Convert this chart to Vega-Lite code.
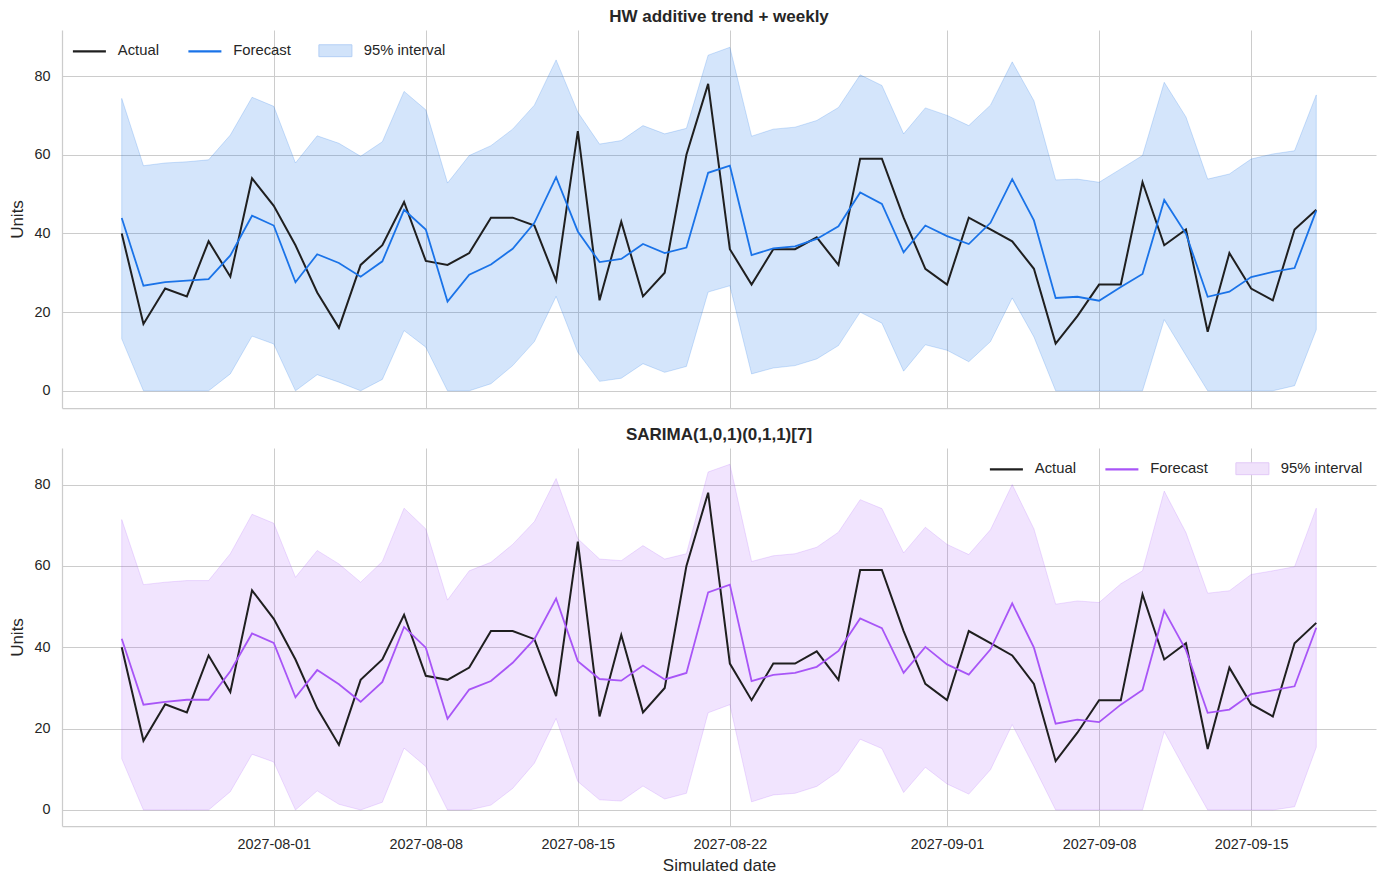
{
  "$schema": "https://vega.github.io/schema/vega-lite/v6.json",
  "background": "white",
  "padding": {"left": 8, "top": 8, "right": 10, "bottom": 4},
  "config": {
    "font": "Liberation Sans",
    "view": {"stroke": null},
    "axis": {
      "domainColor": "#cccccc",
      "domainWidth": 1.25,
      "gridColor": "#cccccc",
      "gridWidth": 1,
      "ticks": false,
      "labelFontSize": 14.4,
      "labelColor": "#262626",
      "labelPadding": 12,
      "titleFontSize": 17,
      "titleFontWeight": "normal",
      "titleColor": "#262626",
      "titlePadding": 7
    },
    "title": {"fontSize": 17, "fontWeight": "bold", "color": "#262626", "offset": 4, "anchor": "middle"},
    "legend": {
      "title": null,
      "direction": "horizontal",
      "labelFontSize": 14.8,
      "labelColor": "#262626",
      "labelOffset": 21,
      "columnPadding": 24.5,
      "symbolSize": 1089,
      "symbolType": "M-1,0H1",
      "symbolStrokeWidth": 2.2,
      "padding": 0,
      "offset": 13
    },
    "concat": {"spacing": 18}
  },
  "datasets": {
    "hw": [
      {"date": "2027-07-25", "Actual": 40, "Forecast": 43.9, "lo": 13.2, "hi": 74.3},
      {"date": "2027-07-26", "Actual": 17, "Forecast": 26.7, "lo": 0, "hi": 57.2},
      {"date": "2027-07-27", "Actual": 26, "Forecast": 27.6, "lo": 0, "hi": 57.9},
      {"date": "2027-07-28", "Actual": 24, "Forecast": 28.0, "lo": 0, "hi": 58.2},
      {"date": "2027-07-29", "Actual": 38, "Forecast": 28.4, "lo": 0, "hi": 58.7},
      {"date": "2027-07-30", "Actual": 29, "Forecast": 34.4, "lo": 4.3, "hi": 65.0},
      {"date": "2027-07-31", "Actual": 54, "Forecast": 44.5, "lo": 13.9, "hi": 74.6},
      {"date": "2027-08-01", "Actual": 47, "Forecast": 42.0, "lo": 11.9, "hi": 72.3},
      {"date": "2027-08-02", "Actual": 37, "Forecast": 27.6, "lo": 0, "hi": 57.9},
      {"date": "2027-08-03", "Actual": 25, "Forecast": 34.7, "lo": 4.1, "hi": 64.8},
      {"date": "2027-08-04", "Actual": 16, "Forecast": 32.5, "lo": 2.2, "hi": 62.9},
      {"date": "2027-08-05", "Actual": 32, "Forecast": 29.0, "lo": 0, "hi": 59.6},
      {"date": "2027-08-06", "Actual": 37, "Forecast": 32.9, "lo": 2.9, "hi": 63.3},
      {"date": "2027-08-07", "Actual": 48, "Forecast": 46.0, "lo": 15.3, "hi": 76.1},
      {"date": "2027-08-08", "Actual": 33, "Forecast": 41.0, "lo": 11.1, "hi": 71.4},
      {"date": "2027-08-09", "Actual": 32, "Forecast": 22.7, "lo": 0, "hi": 52.8},
      {"date": "2027-08-10", "Actual": 35, "Forecast": 29.5, "lo": 0, "hi": 59.8},
      {"date": "2027-08-11", "Actual": 44, "Forecast": 32.1, "lo": 1.8, "hi": 62.3},
      {"date": "2027-08-12", "Actual": 44, "Forecast": 36.1, "lo": 6.4, "hi": 66.5},
      {"date": "2027-08-13", "Actual": 42, "Forecast": 42.7, "lo": 12.5, "hi": 72.6},
      {"date": "2027-08-14", "Actual": 28, "Forecast": 54.3, "lo": 24.0, "hi": 84.1},
      {"date": "2027-08-15", "Actual": 66, "Forecast": 40.5, "lo": 9.8, "hi": 70.8},
      {"date": "2027-08-16", "Actual": 23, "Forecast": 32.7, "lo": 2.4, "hi": 62.7},
      {"date": "2027-08-17", "Actual": 43, "Forecast": 33.5, "lo": 3.2, "hi": 63.6},
      {"date": "2027-08-18", "Actual": 24, "Forecast": 37.3, "lo": 6.9, "hi": 67.4},
      {"date": "2027-08-19", "Actual": 30, "Forecast": 35.0, "lo": 4.7, "hi": 65.3},
      {"date": "2027-08-20", "Actual": 60, "Forecast": 36.4, "lo": 6.2, "hi": 66.7},
      {"date": "2027-08-21", "Actual": 78, "Forecast": 55.4, "lo": 25.1, "hi": 85.3},
      {"date": "2027-08-22", "Actual": 36, "Forecast": 57.2, "lo": 26.7, "hi": 87.3},
      {"date": "2027-08-23", "Actual": 27, "Forecast": 34.5, "lo": 4.3, "hi": 64.7},
      {"date": "2027-08-24", "Actual": 36, "Forecast": 36.2, "lo": 5.8, "hi": 66.5},
      {"date": "2027-08-25", "Actual": 36, "Forecast": 36.7, "lo": 6.4, "hi": 67.0},
      {"date": "2027-08-26", "Actual": 39, "Forecast": 38.6, "lo": 8.1, "hi": 68.7},
      {"date": "2027-08-27", "Actual": 32, "Forecast": 41.8, "lo": 11.5, "hi": 72.0},
      {"date": "2027-08-28", "Actual": 59, "Forecast": 50.4, "lo": 20.0, "hi": 80.3},
      {"date": "2027-08-29", "Actual": 59, "Forecast": 47.5, "lo": 17.2, "hi": 77.6},
      {"date": "2027-08-30", "Actual": 44, "Forecast": 35.2, "lo": 5.0, "hi": 65.3},
      {"date": "2027-08-31", "Actual": 31, "Forecast": 42.0, "lo": 11.7, "hi": 71.9},
      {"date": "2027-09-01", "Actual": 27, "Forecast": 39.3, "lo": 10.3, "hi": 70.0},
      {"date": "2027-09-02", "Actual": 44, "Forecast": 37.3, "lo": 7.4, "hi": 67.4},
      {"date": "2027-09-03", "Actual": 41, "Forecast": 42.7, "lo": 12.5, "hi": 72.6},
      {"date": "2027-09-04", "Actual": 38, "Forecast": 53.8, "lo": 23.6, "hi": 83.6},
      {"date": "2027-09-05", "Actual": 31, "Forecast": 43.3, "lo": 13.7, "hi": 73.7},
      {"date": "2027-09-06", "Actual": 12, "Forecast": 23.6, "lo": 0, "hi": 53.6},
      {"date": "2027-09-07", "Actual": 19, "Forecast": 23.9, "lo": 0, "hi": 53.8},
      {"date": "2027-09-08", "Actual": 27, "Forecast": 22.9, "lo": 0, "hi": 53.0},
      {"date": "2027-09-09", "Actual": 27, "Forecast": 26.4, "lo": 0, "hi": 56.4},
      {"date": "2027-09-10", "Actual": 53, "Forecast": 29.7, "lo": 0, "hi": 59.8},
      {"date": "2027-09-11", "Actual": 37, "Forecast": 48.5, "lo": 18.1, "hi": 78.4},
      {"date": "2027-09-12", "Actual": 41, "Forecast": 39.9, "lo": 9.0, "hi": 69.6},
      {"date": "2027-09-13", "Actual": 15, "Forecast": 23.9, "lo": 0, "hi": 53.8},
      {"date": "2027-09-14", "Actual": 35, "Forecast": 25.2, "lo": 0, "hi": 55.1},
      {"date": "2027-09-15", "Actual": 26, "Forecast": 28.9, "lo": 0, "hi": 58.9},
      {"date": "2027-09-16", "Actual": 23, "Forecast": 30.2, "lo": 0, "hi": 60.2},
      {"date": "2027-09-17", "Actual": 41, "Forecast": 31.2, "lo": 1.3, "hi": 61.0},
      {"date": "2027-09-18", "Actual": 46, "Forecast": 45.8, "lo": 15.5, "hi": 75.2}
    ],
    "sarima": [
      {"date": "2027-07-25", "Actual": 40, "Forecast": 42.1, "lo": 12.6, "hi": 71.4},
      {"date": "2027-07-26", "Actual": 17, "Forecast": 25.9, "lo": 0, "hi": 55.4},
      {"date": "2027-07-27", "Actual": 26, "Forecast": 26.6, "lo": 0, "hi": 56.0},
      {"date": "2027-07-28", "Actual": 24, "Forecast": 27.1, "lo": 0, "hi": 56.4},
      {"date": "2027-07-29", "Actual": 38, "Forecast": 27.1, "lo": 0, "hi": 56.4},
      {"date": "2027-07-30", "Actual": 29, "Forecast": 34.1, "lo": 4.5, "hi": 63.0},
      {"date": "2027-07-31", "Actual": 54, "Forecast": 43.4, "lo": 13.7, "hi": 72.7},
      {"date": "2027-08-01", "Actual": 47, "Forecast": 41.1, "lo": 11.8, "hi": 70.5},
      {"date": "2027-08-02", "Actual": 37, "Forecast": 27.7, "lo": 0, "hi": 57.2},
      {"date": "2027-08-03", "Actual": 25, "Forecast": 34.4, "lo": 4.7, "hi": 63.8},
      {"date": "2027-08-04", "Actual": 16, "Forecast": 30.9, "lo": 1.4, "hi": 60.5},
      {"date": "2027-08-05", "Actual": 32, "Forecast": 26.6, "lo": 0, "hi": 56.0},
      {"date": "2027-08-06", "Actual": 37, "Forecast": 31.5, "lo": 1.9, "hi": 61.1},
      {"date": "2027-08-07", "Actual": 48, "Forecast": 45.0, "lo": 15.2, "hi": 74.2},
      {"date": "2027-08-08", "Actual": 33, "Forecast": 39.9, "lo": 10.7, "hi": 69.1},
      {"date": "2027-08-09", "Actual": 32, "Forecast": 22.4, "lo": 0, "hi": 51.6},
      {"date": "2027-08-10", "Actual": 35, "Forecast": 29.6, "lo": 0, "hi": 58.8},
      {"date": "2027-08-11", "Actual": 44, "Forecast": 31.7, "lo": 1.2, "hi": 60.9},
      {"date": "2027-08-12", "Actual": 44, "Forecast": 36.2, "lo": 5.3, "hi": 65.3},
      {"date": "2027-08-13", "Actual": 42, "Forecast": 42.0, "lo": 11.5, "hi": 70.9},
      {"date": "2027-08-14", "Actual": 28, "Forecast": 52.0, "lo": 22.5, "hi": 81.5},
      {"date": "2027-08-15", "Actual": 66, "Forecast": 36.6, "lo": 7.0, "hi": 66.7},
      {"date": "2027-08-16", "Actual": 23, "Forecast": 32.2, "lo": 2.5, "hi": 61.7},
      {"date": "2027-08-17", "Actual": 43, "Forecast": 31.8, "lo": 2.2, "hi": 61.3},
      {"date": "2027-08-18", "Actual": 24, "Forecast": 35.5, "lo": 5.9, "hi": 65.0},
      {"date": "2027-08-19", "Actual": 30, "Forecast": 32.1, "lo": 2.7, "hi": 61.7},
      {"date": "2027-08-20", "Actual": 60, "Forecast": 33.7, "lo": 4.1, "hi": 63.0},
      {"date": "2027-08-21", "Actual": 78, "Forecast": 53.5, "lo": 23.9, "hi": 83.1},
      {"date": "2027-08-22", "Actual": 36, "Forecast": 55.4, "lo": 25.9, "hi": 85.0},
      {"date": "2027-08-23", "Actual": 27, "Forecast": 31.7, "lo": 2.0, "hi": 61.1},
      {"date": "2027-08-24", "Actual": 36, "Forecast": 33.2, "lo": 3.7, "hi": 62.5},
      {"date": "2027-08-25", "Actual": 36, "Forecast": 33.7, "lo": 4.1, "hi": 63.0},
      {"date": "2027-08-26", "Actual": 39, "Forecast": 35.2, "lo": 5.8, "hi": 64.6},
      {"date": "2027-08-27", "Actual": 32, "Forecast": 39.1, "lo": 9.5, "hi": 68.3},
      {"date": "2027-08-28", "Actual": 59, "Forecast": 47.1, "lo": 17.4, "hi": 76.3},
      {"date": "2027-08-29", "Actual": 59, "Forecast": 44.7, "lo": 15.1, "hi": 74.1},
      {"date": "2027-08-30", "Actual": 44, "Forecast": 33.7, "lo": 4.3, "hi": 63.2},
      {"date": "2027-08-31", "Actual": 31, "Forecast": 40.1, "lo": 10.5, "hi": 69.5},
      {"date": "2027-09-01", "Actual": 27, "Forecast": 35.8, "lo": 6.4, "hi": 65.3},
      {"date": "2027-09-02", "Actual": 44, "Forecast": 33.3, "lo": 3.9, "hi": 62.8},
      {"date": "2027-09-03", "Actual": 41, "Forecast": 39.5, "lo": 9.9, "hi": 68.9},
      {"date": "2027-09-04", "Actual": 38, "Forecast": 50.8, "lo": 21.0, "hi": 80.0},
      {"date": "2027-09-05", "Actual": 31, "Forecast": 39.9, "lo": 10.7, "hi": 69.1},
      {"date": "2027-09-06", "Actual": 12, "Forecast": 21.2, "lo": 0, "hi": 50.6},
      {"date": "2027-09-07", "Actual": 19, "Forecast": 22.2, "lo": 0, "hi": 51.4},
      {"date": "2027-09-08", "Actual": 27, "Forecast": 21.6, "lo": 0, "hi": 51.0},
      {"date": "2027-09-09", "Actual": 27, "Forecast": 25.9, "lo": 0, "hi": 55.6},
      {"date": "2027-09-10", "Actual": 53, "Forecast": 29.5, "lo": 0, "hi": 58.8},
      {"date": "2027-09-11", "Actual": 37, "Forecast": 49.0, "lo": 19.3, "hi": 78.4},
      {"date": "2027-09-12", "Actual": 41, "Forecast": 39.3, "lo": 9.5, "hi": 68.2},
      {"date": "2027-09-13", "Actual": 15, "Forecast": 23.9, "lo": 0, "hi": 53.3},
      {"date": "2027-09-14", "Actual": 35, "Forecast": 24.7, "lo": 0, "hi": 53.9},
      {"date": "2027-09-15", "Actual": 26, "Forecast": 28.5, "lo": 0, "hi": 57.9},
      {"date": "2027-09-16", "Actual": 23, "Forecast": 29.4, "lo": 0, "hi": 58.8},
      {"date": "2027-09-17", "Actual": 41, "Forecast": 30.4, "lo": 0.8, "hi": 59.8},
      {"date": "2027-09-18", "Actual": 46, "Forecast": 44.8, "lo": 15.4, "hi": 74.2}
    ]
  },
  "vconcat": [
    {
      "title": "HW additive trend + weekly",
      "width": 1314,
      "height": 378,
      "data": {"name": "hw"},
      "encoding": {
        "x": {
          "field": "date",
          "type": "temporal",
          "scale": {
            "type": "utc",
            "domain": [
              {"year": 2027, "month": 7, "date": 22, "hours": 6, "utc": true},
              {"year": 2027, "month": 9, "date": 20, "hours": 18, "utc": true}
            ]
          },
          "axis": {
            "labels": false,
            "title": null,
            "grid": true,
            "values": [
              {"year": 2027, "month": 8, "date": 1, "utc": true},
              {"year": 2027, "month": 8, "date": 8, "utc": true},
              {"year": 2027, "month": 8, "date": 15, "utc": true},
              {"year": 2027, "month": 8, "date": 22, "utc": true},
              {"year": 2027, "month": 9, "date": 1, "utc": true},
              {"year": 2027, "month": 9, "date": 8, "utc": true},
              {"year": 2027, "month": 9, "date": 15, "utc": true}
            ]
          }
        }
      },
      "layer": [
        {
          "mark": {"type": "area", "fill": "#1a73e8", "fillOpacity": 0.19, "stroke": "#1a73e8", "strokeOpacity": 0.2, "strokeWidth": 1},
          "encoding": {
            "y": {
              "field": "lo",
              "type": "quantitative",
              "title": "Units",
              "scale": {"domain": [-4.37, 91.7], "nice": false, "zero": false},
              "axis": {"values": [0, 20, 40, 60, 80], "grid": true}
            },
            "y2": {"field": "hi"}
          }
        },
        {
          "transform": [{"fold": ["Actual", "Forecast"], "as": ["series", "value"]}],
          "mark": {"type": "line"},
          "encoding": {
            "y": {"field": "value", "type": "quantitative"},
            "color": {
              "field": "series",
              "type": "nominal",
              "scale": {"domain": ["Actual", "Forecast", "95% interval"], "range": ["#1f1f1f", "#1a73e8", "#b3cff5"]},
              "legend": {
                "orient": "none",
                "legendX": 20,
                "legendY": 13,
                "encode": {
                  "symbols": {
                    "update": {
                      "shape": {"signal": "datum.value === '95% interval' ? 'M-1,-0.36H1V0.36H-1Z' : 'M-1,0H1'"},
                      "fill": {"signal": "datum.value === '95% interval' ? '#d1e3fa' : 'transparent'"},
                      "strokeWidth": {"signal": "datum.value === '95% interval' ? 1 : 2.2"}
                    }
                  }
                }
              }
            },
            "strokeWidth": {
              "field": "series",
              "type": "nominal",
              "scale": {"domain": ["Actual", "Forecast"], "range": [2, 1.8]},
              "legend": null
            }
          }
        }
      ]
    },
    {
      "title": "SARIMA(1,0,1)(0,1,1)[7]",
      "width": 1314,
      "height": 378,
      "data": {"name": "sarima"},
      "encoding": {
        "x": {
          "field": "date",
          "type": "temporal",
          "title": "Simulated date",
          "scale": {
            "type": "utc",
            "domain": [
              {"year": 2027, "month": 7, "date": 22, "hours": 6, "utc": true},
              {"year": 2027, "month": 9, "date": 20, "hours": 18, "utc": true}
            ]
          },
          "axis": {
            "format": "%Y-%m-%d",
            "labelPadding": 11,
            "titlePadding": 7,
            "grid": true,
            "values": [
              {"year": 2027, "month": 8, "date": 1, "utc": true},
              {"year": 2027, "month": 8, "date": 8, "utc": true},
              {"year": 2027, "month": 8, "date": 15, "utc": true},
              {"year": 2027, "month": 8, "date": 22, "utc": true},
              {"year": 2027, "month": 9, "date": 1, "utc": true},
              {"year": 2027, "month": 9, "date": 8, "utc": true},
              {"year": 2027, "month": 9, "date": 15, "utc": true}
            ]
          }
        }
      },
      "layer": [
        {
          "mark": {"type": "area", "fill": "#a855f7", "fillOpacity": 0.16, "stroke": "#a855f7", "strokeOpacity": 0.18, "strokeWidth": 1},
          "encoding": {
            "y": {
              "field": "lo",
              "type": "quantitative",
              "title": "Units",
              "scale": {"domain": [-3.94, 89.0], "nice": false, "zero": false},
              "axis": {"values": [0, 20, 40, 60, 80], "grid": true}
            },
            "y2": {"field": "hi"}
          }
        },
        {
          "transform": [{"fold": ["Actual", "Forecast"], "as": ["series", "value"]}],
          "mark": {"type": "line"},
          "encoding": {
            "y": {"field": "value", "type": "quantitative"},
            "color": {
              "field": "series",
              "type": "nominal",
              "scale": {"domain": ["Actual", "Forecast", "95% interval"], "range": ["#1f1f1f", "#a855f7", "#e2c9f7"]},
              "legend": {
                "orient": "top-right",
                "encode": {
                  "symbols": {
                    "update": {
                      "shape": {"signal": "datum.value === '95% interval' ? 'M-1,-0.36H1V0.36H-1Z' : 'M-1,0H1'"},
                      "fill": {"signal": "datum.value === '95% interval' ? '#f0e2fb' : 'transparent'"},
                      "strokeWidth": {"signal": "datum.value === '95% interval' ? 1 : 2.2"}
                    }
                  }
                }
              }
            },
            "strokeWidth": {
              "field": "series",
              "type": "nominal",
              "scale": {"domain": ["Actual", "Forecast"], "range": [2, 1.8]},
              "legend": null
            }
          }
        }
      ]
    }
  ],
  "resolve": {"scale": {"color": "independent", "y": "independent", "x": "independent", "strokeWidth": "independent"}, "legend": {"color": "independent"}}
}
